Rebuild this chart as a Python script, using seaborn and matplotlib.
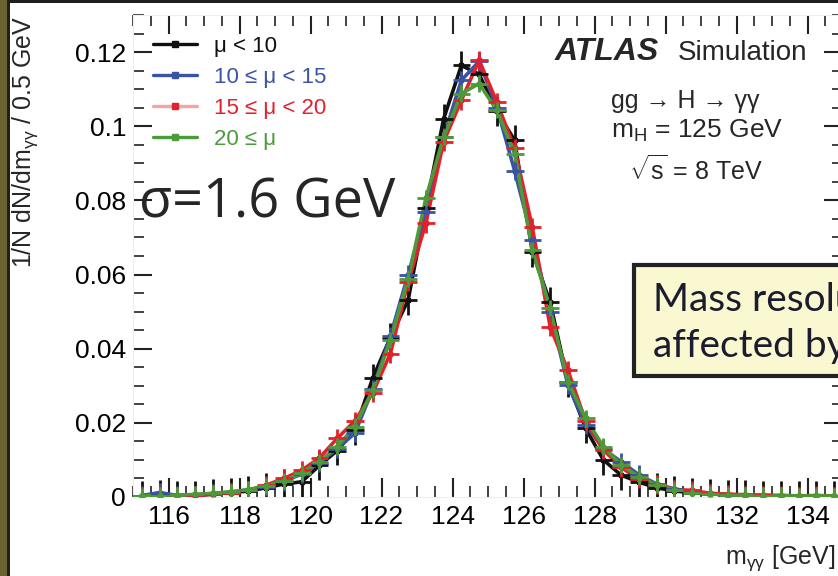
import numpy as np
import pandas as pd
import matplotlib
matplotlib.use("Agg")
import matplotlib.pyplot as plt
from matplotlib.lines import Line2D
from matplotlib.patches import Rectangle
from matplotlib.ticker import MultipleLocator
import seaborn as sns

# ---------------- data ----------------
mass = [115.25, 115.75, 116.25, 116.75, 117.25, 117.75, 118.25, 118.75, 119.25, 119.75,
        120.25, 120.75, 121.25, 121.75, 122.25, 122.75, 123.25, 123.75, 124.25, 124.75,
        125.25, 125.75, 126.25, 126.75, 127.25, 127.75, 128.25, 128.75, 129.25, 129.75,
        130.25, 130.75, 131.25, 131.75, 132.25, 132.75, 133.25, 133.75, 134.25, 134.75]

mu_lt10 = [0.0003, 0.0006, 0.0004, 0.0003, 0.0008, 0.0012, 0.0016, 0.0025, 0.0035, 0.0041,
           0.0085, 0.0125, 0.0180, 0.0320, 0.0430, 0.0531, 0.0780, 0.1020, 0.1164, 0.1140,
           0.1040, 0.0962, 0.0660, 0.0526, 0.0310, 0.0185, 0.0100, 0.0059, 0.0040, 0.0025,
           0.0016, 0.0012, 0.0009, 0.0006, 0.0005, 0.0004, 0.0003, 0.0003, 0.0003, 0.0002]

mu_10_15 = [0.0004, 0.0012, 0.0004, 0.0006, 0.0009, 0.0013, 0.0019, 0.0028, 0.0042, 0.0062,
            0.0092, 0.0130, 0.0172, 0.0290, 0.0434, 0.0600, 0.0770, 0.0971, 0.1124, 0.1175,
            0.1050, 0.0880, 0.0694, 0.0500, 0.0302, 0.0195, 0.0130, 0.0095, 0.0060, 0.0035,
            0.0022, 0.0014, 0.0009, 0.0006, 0.0005, 0.0003, 0.0003, 0.0003, 0.0003, 0.0002]

mu_15_20 = [0.0003, 0.0004, 0.0002, 0.0005, 0.0007, 0.0012, 0.0018, 0.0032, 0.0050, 0.0072,
            0.0105, 0.0158, 0.0205, 0.0280, 0.0387, 0.0580, 0.0738, 0.0958, 0.1070, 0.1178,
            0.1065, 0.0940, 0.0727, 0.0459, 0.0342, 0.0205, 0.0127, 0.0080, 0.0048, 0.0033,
            0.0020, 0.0018, 0.0010, 0.0008, 0.0006, 0.0005, 0.0004, 0.0003, 0.0004, 0.0003]

mu_ge20 = [0.0003, 0.0004, 0.0005, 0.0007, 0.0010, 0.0014, 0.0020, 0.0030, 0.0043, 0.0065,
           0.0095, 0.0136, 0.0190, 0.0288, 0.0423, 0.0589, 0.0806, 0.0971, 0.1088, 0.1115,
           0.1043, 0.0926, 0.0666, 0.0509, 0.0311, 0.0212, 0.0136, 0.0086, 0.0055, 0.0032,
           0.0019, 0.0012, 0.0008, 0.0006, 0.0005, 0.0004, 0.0004, 0.0003, 0.0003, 0.0003]

labels = ["\u03bc < 10", "10 \u2264 \u03bc < 15", "15 \u2264 \u03bc < 20", "20 \u2264 \u03bc"]
series = [mu_lt10, mu_10_15, mu_15_20, mu_ge20]
colors = ["#111111", "#3b53a4", "#e3212b", "#4c9a3a"]
legend_line_colors = ["#111111", "#3b53a4", "#f4a3a9", "#4c9a3a"]
yerrs = [0.0040, 0.0025, 0.0025, 0.0022]

x_ticks = [116, 118, 120, 122, 124, 126, 128, 130, 132, 134]
y_ticks = [0, 0.02, 0.04, 0.06, 0.08, 0.1, 0.12]
y_ticklabels = ["0", "0.02", "0.04", "0.06", "0.08", "0.1", "0.12"]

df = pd.concat([pd.DataFrame({"m": mass, "v": s, "cat": lab}) for s, lab in zip(series, labels)],
               ignore_index=True)

# ---------------- style ----------------
sns.set_style("ticks")
plt.rcParams["font.family"] = ["Liberation Sans", "DejaVu Sans"]
plt.rcParams["mathtext.fontset"] = "custom"
plt.rcParams["mathtext.rm"] = "Liberation Sans"
plt.rcParams["mathtext.it"] = "Liberation Sans"
plt.rcParams["mathtext.bf"] = "Liberation Sans:bold"

W, H = 838, 576
fig = plt.figure(figsize=(W / 100, H / 100), dpi=100)
fig.patch.set_facecolor("white")

def fx(x):
    return x / W

def fy(y):
    return 1 - y / H

ax = fig.add_axes([fx(133), fy(497), 710 / W, 482 / H])

sns.lineplot(data=df, x="m", y="v", hue="cat", hue_order=labels, palette=colors,
             estimator=None, sort=True, linewidth=2.6, legend=False, ax=ax)
for i, (s, c, e) in enumerate(zip(series, colors, yerrs)):
    ax.errorbar(mass, s, xerr=0.25, yerr=e, fmt="s", color=c, ms=3, elinewidth=2,
                capsize=0, zorder=3 + i)

ax.set_xlim(115, 135)
ax.set_ylim(0, 0.13)
ax.set_xticks(x_ticks)
ax.set_xticklabels([str(t) for t in x_ticks])
ax.set_yticks(y_ticks)
ax.set_yticklabels(y_ticklabels)
ax.xaxis.set_minor_locator(MultipleLocator(0.5))
ax.yaxis.set_minor_locator(MultipleLocator(0.005))
ax.tick_params(which="both", direction="in", top=True, right=True, colors="#222222",
               labelcolor="black", labelsize=19, width=1.5)
ax.tick_params(which="major", length=14)
ax.tick_params(which="minor", length=8, width=1.2)
ax.tick_params(axis="x", pad=6)
ax.tick_params(axis="y", pad=5)
ax.set_xlabel("")
ax.set_ylabel("")
for sp in ax.spines.values():
    sp.set_color("#eeeeee")
    sp.set_linewidth(0.8)

# legend
handles = [Line2D([0], [0], color=lc, lw=2.4, marker="s", ms=5, mfc=c, mec=c)
           for lc, c in zip(legend_line_colors, colors)]
leg = ax.legend(handles, labels, loc="upper left", bbox_to_anchor=(fx(153), fy(36)),
                bbox_transform=fig.transFigure, frameon=False, fontsize=16,
                handlelength=2.0, handletextpad=0.75, labelspacing=0.45,
                borderpad=0, borderaxespad=0, labelcolor=colors)

# annotations (ATLAS)
fig.text(fx(555), fy(60), "ATLAS", fontsize=23, fontweight="bold", fontstyle="italic",
         va="baseline", ha="left")
fig.text(fx(678), fy(60), "Simulation", fontsize=20, va="baseline", ha="left")
fig.text(fx(611), fy(108), "gg \u2192 H \u2192 \u03b3\u03b3", fontsize=18,
         va="baseline", ha="left")
fig.text(fx(611), fy(138), r"m$_{\mathrm{H}}$ = 125 GeV", fontsize=19, va="baseline", ha="left")
fig.text(fx(629), fy(180), r"$\sqrt{s}$ = 8 TeV", fontsize=18, va="baseline", ha="left")

# axis titles
fig.text(fx(25), fy(142), "1/N dN/dm$_{\\gamma\\gamma}$ / 0.5 GeV", rotation=90,
         fontsize=18, ha="center", va="center")
fig.text(fx(835), fy(564), "m$_{\\gamma\\gamma}$ [GeV]", fontsize=18, ha="right",
         va="baseline")

# slide overlay: sigma text
fig.text(fx(139), fy(218), "\u03c3=1.6 GeV", fontsize=39, family=["Open Sans", "DejaVu Sans"],
         va="baseline", ha="left")

# yellow note box (cut by the slide edge, as in the slide)
fig.patches.append(Rectangle((fx(634), fy(376)), (860 - 634) / W, (376 - 265) / H,
                             transform=fig.transFigure, facecolor="#faf8d0",
                             edgecolor="#222222", lw=3, zorder=5))
fig.text(fx(653), fy(311), "Mass resolution not", fontsize=28, color="#1c1c30",
         family=["Lato", "DejaVu Sans"], va="baseline", ha="left", zorder=6)
fig.text(fx(653), fy(357), "affected by pile-up", fontsize=28, color="#1c1c30",
         family=["Lato", "DejaVu Sans"], va="baseline", ha="left", zorder=6)

# slide border strips
fig.patches.append(Rectangle((0, 0), fx(7), 1, transform=fig.transFigure,
                             facecolor="#686330", edgecolor="none", zorder=10))
fig.patches.append(Rectangle((fx(7), 0), fx(3), 1, transform=fig.transFigure,
                             facecolor="#1f1f1f", edgecolor="none", zorder=10))
fig.patches.append(Rectangle((fx(7), fy(3)), 1, fy(0) - fy(3), transform=fig.transFigure,
                             facecolor="#1f1f1f", edgecolor="none", zorder=10))

fig.savefig("out.png", dpi=100)
